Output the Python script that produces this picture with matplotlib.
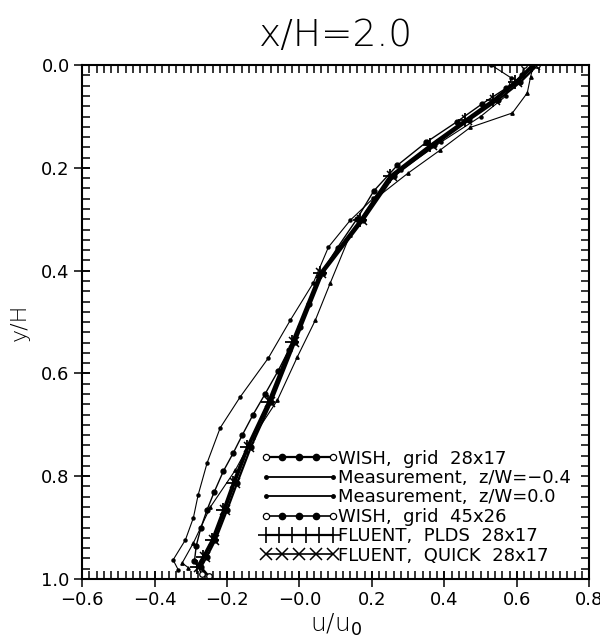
"""Velocity profile u/u0 against y/H at x/H = 2.0."""

from __future__ import annotations

import matplotlib

matplotlib.use("Agg")

from matplotlib import pyplot as plt
from matplotlib.lines import Line2D
from matplotlib.ticker import FixedFormatter, FixedLocator, MultipleLocator

TITLE = "x/H=2.0"
X_TICKS = [-0.6, -0.4, -0.2, 0.0, 0.2, 0.4, 0.6, 0.8]
X_TICK_LABELS = ["\u22120.6", "\u22120.4", "\u22120.2", "\u22120.0", "0.2", "0.4", "0.6", "0.8"]
Y_TICKS = [0.0, 0.2, 0.4, 0.6, 0.8, 1.0]
Y_TICK_LABELS = ["0.0", "0.2", "0.4", "0.6", "0.8", "1.0"]

# FLUENT runs on the 28x17 grid share the same nodes
y_28 = [0.0, 0.033, 0.068, 0.107, 0.156, 0.216, 0.302, 0.405, 0.539, 0.656, 0.743, 0.813, 0.866, 0.924, 0.957, 0.977]
u_plds = [0.643, 0.596, 0.535, 0.458, 0.361, 0.25, 0.168, 0.057, -0.02, -0.086, -0.144, -0.183, -0.21, -0.241, -0.266, -0.283]
u_quick = [0.65, 0.602, 0.54, 0.462, 0.366, 0.255, 0.172, 0.06, -0.015, -0.082, -0.14, -0.178, -0.205, -0.236, -0.262, -0.278]

y_wish28 = [0.0, 0.033, 0.068, 0.107, 0.156, 0.216, 0.302, 0.405, 0.539, 0.656, 0.743, 0.813, 0.866, 0.924, 0.957, 0.977, 0.995]
u_wish28 = [0.657, 0.61, 0.548, 0.468, 0.372, 0.26, 0.176, 0.064, -0.012, -0.078, -0.134, -0.172, -0.2, -0.232, -0.256, -0.272, -0.25]

y_wish45 = [0.0, 0.02, 0.045, 0.075, 0.11, 0.15, 0.195, 0.245, 0.3, 0.355, 0.41, 0.465, 0.51, 0.555,
            0.595, 0.64, 0.68, 0.72, 0.755, 0.79, 0.83, 0.865, 0.9, 0.935, 0.965, 0.99]
u_wish45 = [0.62, 0.615, 0.57, 0.505, 0.435, 0.35, 0.27, 0.205, 0.158, 0.105, 0.055, 0.025, 0.002, -0.03,
            -0.059, -0.095, -0.128, -0.158, -0.183, -0.21, -0.235, -0.255, -0.272, -0.285, -0.29, -0.27]

y_meas_m04 = [0.0, 0.025, 0.06, 0.1, 0.15, 0.205, 0.259, 0.302, 0.354, 0.424, 0.496, 0.57, 0.646, 0.706,
              0.774, 0.837, 0.881, 0.924, 0.963, 0.982]
u_meas_m04 = [0.53, 0.585, 0.57, 0.5, 0.39, 0.28, 0.204, 0.14, 0.08, 0.038, -0.025, -0.086, -0.164, -0.219,
              -0.255, -0.28, -0.293, -0.315, -0.349, -0.335]

y_meas_00 = [0.0, 0.023, 0.054, 0.093, 0.121, 0.165, 0.21, 0.263, 0.33, 0.424, 0.496, 0.568, 0.652, 0.724,
             0.788, 0.86, 0.93, 0.969, 0.978]
u_meas_00 = [0.646, 0.638, 0.629, 0.588, 0.472, 0.389, 0.3, 0.204, 0.14, 0.085, 0.044, -0.006, -0.061, -0.128,
             -0.177, -0.246, -0.293, -0.324, -0.307]

LABELS = [
    "WISH,  grid  28x17",
    "Measurement,  z/W=\u22120.4",
    "Measurement,  z/W=0.0",
    "WISH,  grid  45x26",
    "FLUENT,  PLDS  28x17",
    "FLUENT,  QUICK  28x17",
]


class PatternHandler:
    """Legend key: a line with markers placed at chosen fractions of its length."""

    def __init__(self, lw, marks):
        self.lw = lw
        self.marks = marks

    def legend_artist(self, legend, orig_handle, fontsize, handlebox):
        x0, y0 = handlebox.xdescent, handlebox.ydescent
        width, height = handlebox.width, handlebox.height
        ymid = y0 + height / 2
        trans = handlebox.get_transform()
        line = Line2D([x0, x0 + width], [ymid, ymid], color="black", lw=self.lw, transform=trans)
        handlebox.add_artist(line)
        for fracs, style in self.marks:
            xs = [x0 + f * width for f in fracs]
            handlebox.add_artist(Line2D(xs, [ymid] * len(xs), ls="none", transform=trans, **style))
        return line


def wish_line(ax, u, y, lw):
    ax.plot(u, y, color="black", lw=lw, marker="o", ms=3.5, mfc="black", mec="black",
            markevery=list(range(1, len(u) - 1)))
    ax.plot([u[0], u[-1]], [y[0], y[-1]], ls="none", marker="o", ms=4, mfc="white", mec="black", mew=0.9)


def main() -> int:
    plt.rcParams["font.family"] = ["DejaVu Sans"]
    fig = plt.figure(figsize=(6.0, 6.39), dpi=100)
    ax = fig.add_axes([0.137, 0.094, 0.845, 0.804])

    ax.plot(u_meas_m04, y_meas_m04, color="black", lw=0.8, marker="o", ms=2.2)
    ax.plot(u_meas_00, y_meas_00, color="black", lw=0.8, marker="^", ms=2.4)
    wish_line(ax, u_wish45, y_wish45, 1.0)
    wish_line(ax, u_wish28, y_wish28, 1.6)
    ax.plot(u_plds, y_28, color="black", lw=2.0, marker="+", ms=10, mew=1.3)
    ax.plot(u_quick, y_28, color="black", lw=1.4, marker="x", ms=7, mew=1.1)

    ax.set_xlim(-0.6, 0.8)
    ax.set_ylim(1.0, 0.0)
    ax.xaxis.set_major_locator(FixedLocator(X_TICKS))
    ax.xaxis.set_major_formatter(FixedFormatter(X_TICK_LABELS))
    ax.yaxis.set_major_locator(FixedLocator(Y_TICKS))
    ax.yaxis.set_major_formatter(FixedFormatter(Y_TICK_LABELS))
    ax.xaxis.set_minor_locator(MultipleLocator(0.02))
    ax.yaxis.set_minor_locator(MultipleLocator(0.02))
    ax.xaxis.remove_overlapping_locs = False
    ax.yaxis.remove_overlapping_locs = False
    ax.tick_params(which="both", labelsize=13, width=1.1)
    ax.tick_params(which="major", direction="inout", length=11, top=False, right=False)
    ax.tick_params(which="minor", direction="in", length=6, top=True, right=True)
    for spine in ax.spines.values():
        spine.set_linewidth(1.5)

    ax.set_title(TITLE, fontsize=27, pad=14, fontweight="light")
    ax.set_xlabel("u/u$_0$", fontsize=18, labelpad=2, fontweight="light")
    ax.set_ylabel("y/H", fontsize=16, labelpad=8, fontweight="light")

    inner = [0.25, 0.5, 0.75]
    ends = [0.0, 1.0]
    five = [0.0, 0.25, 0.5, 0.75, 1.0]
    filled = dict(marker="o", ms=4.5, mfc="black", mec="black")
    hollow = dict(marker="o", ms=4.5, mfc="white", mec="black", mew=0.9)
    dots = dict(marker="o", ms=2.5, mfc="black", mec="black")
    handlers = [
        PatternHandler(1.6, [(inner, filled), (ends, hollow)]),
        PatternHandler(1.3, [(ends, dots)]),
        PatternHandler(1.3, [(ends, dots)]),
        PatternHandler(1.2, [(inner, filled), (ends, hollow)]),
        PatternHandler(1.6, [([0.0, 0.2, 0.4, 0.6, 0.8, 1.0], dict(marker="+", ms=12, mew=1.2, color="black"))]),
        PatternHandler(1.2, [(five, dict(marker="x", ms=9, mew=1.1, color="black"))]),
    ]
    handles = [Line2D([], [], color="black") for _ in LABELS]
    ax.legend(
        handles,
        LABELS,
        loc="lower left",
        bbox_to_anchor=(0.362, 0.028),
        frameon=False,
        fontsize=13,
        handlelength=3.7,
        handletextpad=0.3,
        labelspacing=0.075,
        borderpad=0.0,
        borderaxespad=0.0,
        handler_map=dict(zip(handles, handlers)),
    )

    fig.savefig("out.png", dpi=100)
    plt.close(fig)
    return 0


if __name__ == "__main__":
    raise SystemExit(main())
